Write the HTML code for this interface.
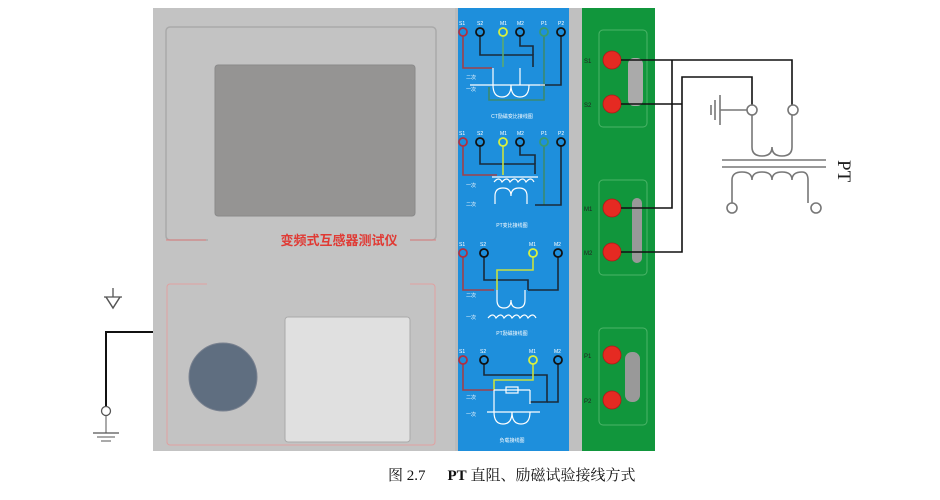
<!DOCTYPE html>
<html><head><meta charset="utf-8"><style>
html,body{margin:0;padding:0;background:#fff;width:940px;height:500px;overflow:hidden}
svg{display:block}
.t{font-family:"Liberation Sans","Noto Sans CJK SC",sans-serif}
</style></head><body>
<svg width="940" height="500" viewBox="0 0 940 500" xmlns="http://www.w3.org/2000/svg">
<!-- device body -->
<rect x="153" y="8" width="302" height="443" fill="#c3c3c3"/>
<path d="M208 240 H170 a4 4 0 0 1 -4 -4 V31 a4 4 0 0 1 4 -4 H432 a4 4 0 0 1 4 4 V236 a4 4 0 0 1 -4 4 H410" fill="none" stroke="#a9a9a9" stroke-width="1.5"/>
<line x1="166" y1="240" x2="206" y2="240" stroke="#e08080" stroke-width="1"/>
<line x1="410" y1="240" x2="436" y2="240" stroke="#e08080" stroke-width="1"/>
<rect x="215" y="65" width="200" height="151" rx="3" fill="#959493" stroke="#8a8a8a"/>
<text x="339" y="245" text-anchor="middle" class="t" font-size="13" font-weight="bold" fill="#e03a34">变频式互感器测试仪</text>
<path d="M207 284 H170 a3 3 0 0 0 -3 3 V442 a3 3 0 0 0 3 3 H432 a3 3 0 0 0 3 -3 V287 a3 3 0 0 0 -3 -3 H410" fill="none" stroke="#e0a0a0" stroke-width="1"/>
<circle cx="223" cy="377" r="34" fill="#5f6e80" stroke="#7a8290"/>
<rect x="285" y="317" width="125" height="125" rx="3" fill="#e0e0e0" stroke="#aaa"/>
<!-- ground left -->
<polyline points="153,332 106,332 106,406" fill="none" stroke="#111" stroke-width="2"/>
<circle cx="106" cy="411" r="4.5" fill="#fff" stroke="#555" stroke-width="1.3"/>
<line x1="106" y1="416" x2="106" y2="433" stroke="#555"/>
<line x1="93" y1="433" x2="119" y2="433" stroke="#555" stroke-width="1.3"/>
<line x1="97" y1="437" x2="115" y2="437" stroke="#555"/>
<line x1="101" y1="441" x2="111" y2="441" stroke="#555"/>
<line x1="113" y1="288" x2="113" y2="297" stroke="#555" stroke-width="1.3"/>
<line x1="104" y1="297" x2="122" y2="297" stroke="#555" stroke-width="1.3"/>
<path d="M106 297 L113 308 L120 297" fill="none" stroke="#555" stroke-width="1.5"/>
<!-- blue panel -->
<rect x="455" y="8" width="3" height="443" fill="#bbb"/>
<rect x="458" y="8" width="111" height="443" fill="#1e8fdc"/>
<rect x="569" y="8" width="13" height="443" fill="#c0c0c0"/>
<g class="t" font-size="5" fill="#fff">
<!-- section 1 -->
<text x="459" y="25">S1</text><text x="477" y="25">S2</text><text x="500" y="25">M1</text><text x="517" y="25">M2</text><text x="541" y="25">P1</text><text x="558" y="25">P2</text>
<text x="466" y="79">二次</text><text x="466" y="91">一次</text>
<text x="512" y="118" text-anchor="middle">CT励磁变比接线图</text>
<!-- section 2 -->
<text x="459" y="135">S1</text><text x="477" y="135">S2</text><text x="500" y="135">M1</text><text x="517" y="135">M2</text><text x="541" y="135">P1</text><text x="558" y="135">P2</text>
<text x="466" y="187">一次</text><text x="466" y="206">二次</text>
<text x="512" y="227" text-anchor="middle">PT变比接线图</text>
<!-- section 3 -->
<text x="459" y="246">S1</text><text x="480" y="246">S2</text><text x="529" y="246">M1</text><text x="554" y="246">M2</text>
<text x="466" y="297">二次</text><text x="466" y="319">一次</text>
<text x="512" y="335" text-anchor="middle">PT励磁接线图</text>
<!-- section 4 -->
<text x="459" y="353">S1</text><text x="480" y="353">S2</text><text x="529" y="353">M1</text><text x="554" y="353">M2</text>
<text x="466" y="399">二次</text><text x="466" y="416">一次</text>
<text x="512" y="442" text-anchor="middle">负载接线图</text>
</g>
<g fill="none" stroke-width="1.6">
<!-- sec1 wires -->
<path d="M463 36 V68 H492" stroke="#a0404a"/>
<path d="M480 36 V55 H533 V67" stroke="#1a2a3a"/>
<path d="M503 36 V67" stroke="#5aaa70"/>
<path d="M520 36 V46 H533 V55" stroke="#1a2a3a"/>
<path d="M544 36 V100 H489 V87" stroke="#3a8a70"/>
<path d="M561 36 V85 H540" stroke="#1a2a3a"/>
<path d="M470 85 H545 M493 68 V85 M520 68 V85" stroke="#fff" stroke-width="1.2"/>
<path d="M493 85 q0 12 9 12 q9 0 9 -12 q0 12 9 12 q9 0 9 -12" stroke="#fff" stroke-width="1.2"/>
<!-- sec2 -->
<path d="M463 146 V175 H497" stroke="#a0404a"/>
<path d="M480 146 V164 H535 V174" stroke="#1a2a3a"/>
<path d="M503 146 V175" stroke="#c8e040"/>
<path d="M520 146 V155 H535 V164" stroke="#1a2a3a"/>
<path d="M544 146 V205" stroke="#3a8a70"/>
<path d="M561 146 V205 H535" stroke="#1a2a3a"/>
<path d="M492 177 H538" stroke="#fff" stroke-width="1.2"/>
<path d="M494 182 q5 -6 8 0 q5 -6 8 0 q5 -6 8 0 q5 -6 8 0 q5 -6 8 0" stroke="#fff" stroke-width="1.2"/>
<path d="M495 204 V196 q0 -8 8 -8 q8 0 8 8 q0 -8 8 -8 q8 0 8 8 V204" stroke="#fff" stroke-width="1.2"/>
<!-- sec3 -->
<path d="M463 257 V290 H494" stroke="#a0404a"/>
<path d="M484 257 V280 H528 V290" stroke="#1a2a3a"/>
<path d="M533 257 V270 H497 V290" stroke="#c8e040"/>
<path d="M558 257 V290 H528" stroke="#1a2a3a"/>
<path d="M497 290 V300 q0 8 7 8 q7 0 7 -8 q0 8 7 8 q7 0 7 -8 V290" stroke="#fff" stroke-width="1.2"/>
<path d="M488 318 q5 -6 8 0 q5 -6 8 0 q5 -6 8 0 q5 -6 8 0 q5 -6 8 0 q5 -6 8 0" stroke="#fff" stroke-width="1.2"/>
<!-- sec4 -->
<path d="M463 364 V390 H494" stroke="#a0404a"/>
<path d="M484 364 V375 H547 V402 H530" stroke="#1a2a3a"/>
<path d="M533 364 V380 H494 V390" stroke="#c8e040"/>
<path d="M558 364 V402 H547" stroke="#1a2a3a"/>
<path d="M494 390 H530 M494 390 V404 M530 390 V404 M487 412 H540" stroke="#fff" stroke-width="1.2"/>
<rect x="506" y="387" width="12" height="6" stroke="#fff" stroke-width="1.2"/>
<path d="M494 404 V412 q0 12 9 12 q9 0 9 -12 q0 12 9 12 q9 0 9 -12" stroke="#fff" stroke-width="1.2"/>
</g>
<g fill="none" stroke-width="1.8">
<circle cx="463" cy="32" r="4" stroke="#b03040"/><circle cx="480" cy="32" r="4" stroke="#111"/><circle cx="503" cy="32" r="4" stroke="#d8f040"/><circle cx="520" cy="32" r="4" stroke="#111"/><circle cx="544" cy="32" r="4" stroke="#3a9a70"/><circle cx="561" cy="32" r="4" stroke="#111"/>
<circle cx="463" cy="142" r="4" stroke="#b03040"/><circle cx="480" cy="142" r="4" stroke="#111"/><circle cx="503" cy="142" r="4" stroke="#d8f040"/><circle cx="520" cy="142" r="4" stroke="#111"/><circle cx="544" cy="142" r="4" stroke="#3a9a70"/><circle cx="561" cy="142" r="4" stroke="#111"/>
<circle cx="463" cy="253" r="4" stroke="#b03040"/><circle cx="484" cy="253" r="4" stroke="#111"/><circle cx="533" cy="253" r="4" stroke="#d8f040"/><circle cx="558" cy="253" r="4" stroke="#111"/>
<circle cx="463" cy="360" r="4" stroke="#b03040"/><circle cx="484" cy="360" r="4" stroke="#111"/><circle cx="533" cy="360" r="4" stroke="#d8f040"/><circle cx="558" cy="360" r="4" stroke="#111"/>
</g>
<!-- green panel -->
<rect x="582" y="8" width="73" height="443" fill="#11963c"/>
<g fill="none" stroke="#4cb468" stroke-width="1">
<rect x="599" y="30" width="48" height="97" rx="4"/>
<rect x="599" y="180" width="48" height="95" rx="4"/>
<rect x="599" y="328" width="48" height="97" rx="4"/>
</g>
<rect x="628" y="58" width="15" height="48" rx="6" fill="#aaa"/>
<rect x="632" y="198" width="10" height="65" rx="5" fill="#999"/>
<rect x="625" y="352" width="15" height="50" rx="7" fill="#999"/>
<g class="t" font-size="6" fill="#222">
<text x="584" y="63">S1</text><text x="584" y="107">S2</text><text x="584" y="211">M1</text><text x="584" y="255">M2</text><text x="584" y="358">P1</text><text x="584" y="403">P2</text>
</g>
<g fill="#e52a22" stroke="#b01818" stroke-width="0.8">
<circle cx="612" cy="60" r="9"/><circle cx="612" cy="104" r="9"/><circle cx="612" cy="208" r="9"/><circle cx="612" cy="252" r="9"/><circle cx="612" cy="355" r="9"/><circle cx="612" cy="400" r="9"/>
</g>
<!-- wiring -->
<g fill="none" stroke="#111" stroke-width="1.6">
<polyline points="621,60 792,60 792,105"/>
<polyline points="672,60 672,208 621,208"/>
<polyline points="621,104 682,104"/>
<polyline points="621,252 682,252 682,77 752,77 752,105"/>
</g>
<!-- PT -->
<g fill="none" stroke="#777" stroke-width="1.6">
<path d="M752 115 V147 q0 9 10 9 q10 0 10 -9 q0 9 10 9 q10 0 10 -9 V115"/>
<line x1="722" y1="160" x2="826" y2="160"/><line x1="722" y1="167" x2="826" y2="167"/>
<path d="M732 203 V180 q0 -8 10 -8 q10 0 10 8 q0 -8 10 -8 q10 0 10 8 q0 -8 10 -8 q10 0 10 8 q0 -8 10 -8 q6 0 6 8 V203"/>
<line x1="720" y1="110" x2="747" y2="110"/>
<line x1="720" y1="95" x2="720" y2="125"/><line x1="715" y1="100" x2="715" y2="120"/><line x1="711" y1="105" x2="711" y2="115"/>
</g>
<g fill="#fff" stroke="#777" stroke-width="1.6">
<circle cx="752" cy="110" r="5"/><circle cx="793" cy="110" r="5"/><circle cx="732" cy="208" r="5"/><circle cx="816" cy="208" r="5"/>
</g>
<text x="0" y="0" transform="translate(838,160) rotate(90)" font-family="Liberation Serif,serif" font-size="19" fill="#222">PT</text>
<!-- caption -->
<text x="388" y="480" font-family="'Liberation Serif','Noto Serif CJK SC',serif" font-size="15" fill="#111">图 2.7<tspan dx="22" font-weight="bold">PT</tspan> 直阻、励磁试验接线方式</text>
</svg>
</body></html>
